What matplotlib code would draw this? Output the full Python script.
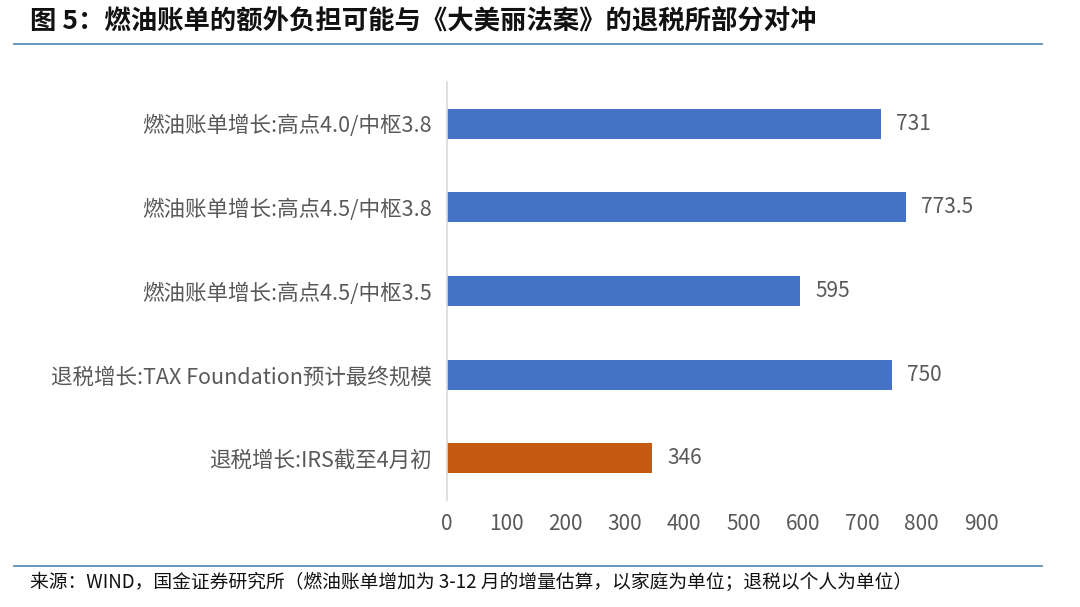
import matplotlib
matplotlib.use('Agg')
import matplotlib.pyplot as plt
from matplotlib.lines import Line2D

plt.rcParams['font.family'] = ['Noto Sans CJK SC', 'DejaVu Sans']

# 数据
categories = [
    "燃油账单增长:高点4.0/中枢3.8",
    "燃油账单增长:高点4.5/中枢3.8",
    "燃油账单增长:高点4.5/中枢3.5",
    "退税增长:TAX Foundation预计最终规模",
    "退税增长:IRS截至4月初",
]
values = [731, 773.5, 595, 750, 346]
value_labels = ["731", "773.5", "595", "750", "346"]
bar_colors = ["#4472C4", "#4472C4", "#4472C4", "#4472C4", "#C55A11"]
x_ticks = [0, 100, 200, 300, 400, 500, 600, 700, 800, 900]

title = "图 5：燃油账单的额外负担可能与《大美丽法案》的退税所部分对冲"
source = "来源：WIND，国金证券研究所（燃油账单增加为 3-12 月的增量估算，以家庭为单位；退税以个人为单位）"

fig = plt.figure(figsize=(10.8, 6.07), dpi=100)
ax = fig.add_axes([0.4139, 0.176, 0.4944, 0.689])

y_pos = list(range(len(categories)))[::-1]
ax.barh(y_pos, values, height=0.36, color=bar_colors)

for y, v, lab in zip(y_pos, values, value_labels):
    ax.text(v + 26, y, lab, va='center', ha='left', fontsize=15,
            color='#595959', fontweight='light')

ax.set_xlim(0, 900)
ax.set_ylim(-0.5, 4.5)
ax.set_xticks(x_ticks)
ax.set_xticklabels([str(t) for t in x_ticks], fontsize=15, color='#595959',
                   fontweight='light')
ax.set_yticks(y_pos)
ax.set_yticklabels(categories, fontsize=15.5, color='#595959', fontweight='light')
ax.tick_params(axis='y', length=0, pad=11)
ax.tick_params(axis='x', length=0, pad=9)

for s in ['top', 'right', 'bottom']:
    ax.spines[s].set_visible(False)
ax.spines['left'].set_color('#d9d9d9')
ax.spines['left'].set_linewidth(1.2)

# 标题和来源
fig.text(0.028, 0.963, title, fontsize=19, fontweight='bold', style='italic',
         va='center', ha='left', color='#111111')
fig.add_artist(Line2D([0.013, 0.965], [0.927, 0.927], color='#5b8db8', linewidth=1.3))
fig.add_artist(Line2D([0.013, 0.965], [0.068, 0.068], color='#5b8db8', linewidth=1.3))
fig.text(0.028, 0.040, source, fontsize=13.5, va='center', ha='left', color='#111111')

fig.savefig('out.png', dpi=100)
